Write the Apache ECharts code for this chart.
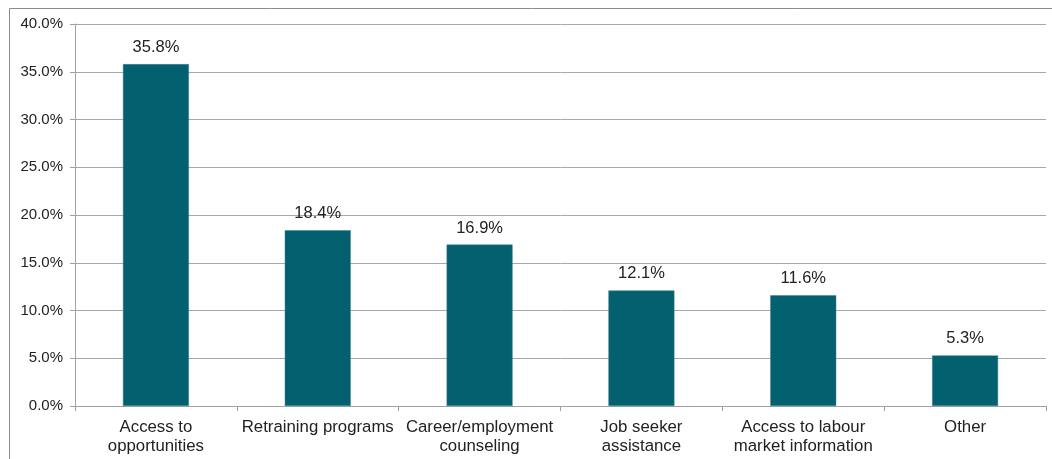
<!DOCTYPE html>
<html>
<head>
<meta charset="utf-8">
<script src="https://cdn.jsdelivr.net/npm/echarts@6/dist/echarts.min.js"></script>
<style>
html,body{margin:0;padding:0;background:#fff;overflow:hidden;}
#chart{width:1052px;height:459px;}
</style>
</head>
<body>
<div id="chart"></div>
<script>
const categories = ["Access to\nopportunities", "Retraining programs", "Career/employment\ncounseling", "Job seeker\nassistance", "Access to labour\nmarket information", "Other"];
const values = [35.8, 18.4, 16.9, 12.1, 11.6, 5.3];

const chart = echarts.init(document.getElementById('chart'), null, {renderer: 'canvas'});
const font = 'Liberation Sans, Arial, sans-serif';
chart.setOption({
  animation: false,
  graphic: [{
    type: 'rect',
    shape: {x: 9.5, y: 8.5, width: 1200, height: 600},
    style: {fill: 'none', stroke: '#8c8c8c', lineWidth: 1},
    silent: true, z: -10
  }],
  grid: {left: 75, right: 6, top: 24, bottom: 53, containLabel: false},
  xAxis: {
    type: 'category',
    data: categories,
    boundaryGap: true,
    axisLine: {lineStyle: {color: '#a0a0a0'}},
    axisTick: {show: true, length: 5, lineStyle: {color: '#a0a0a0'}},
    axisLabel: {color: '#222', fontFamily: font, fontSize: 16.8, lineHeight: 19, margin: 12, interval: 0}
  },
  yAxis: {
    type: 'value',
    min: 0, max: 40, interval: 5,
    axisLine: {show: true, lineStyle: {color: '#a0a0a0'}},
    axisTick: {show: true, length: 5, lineStyle: {color: '#a0a0a0'}},
    splitLine: {lineStyle: {color: '#a8a8a8'}},
    axisLabel: {color: '#222', fontFamily: font, fontSize: 15, margin: 12,
      formatter: v => v.toFixed(1) + '%'}
  },
  series: [{
    type: 'bar',
    data: values,
    barWidth: 66,
    itemStyle: {color: '#03606E', borderColor: '#3d8590', borderWidth: 0.5},
    label: {show: true, position: 'top', distance: 8, color: '#222', fontFamily: font, fontSize: 16.5,
      formatter: p => p.value.toFixed(1) + '%'}
  }]
});
</script>
</body>
</html>
